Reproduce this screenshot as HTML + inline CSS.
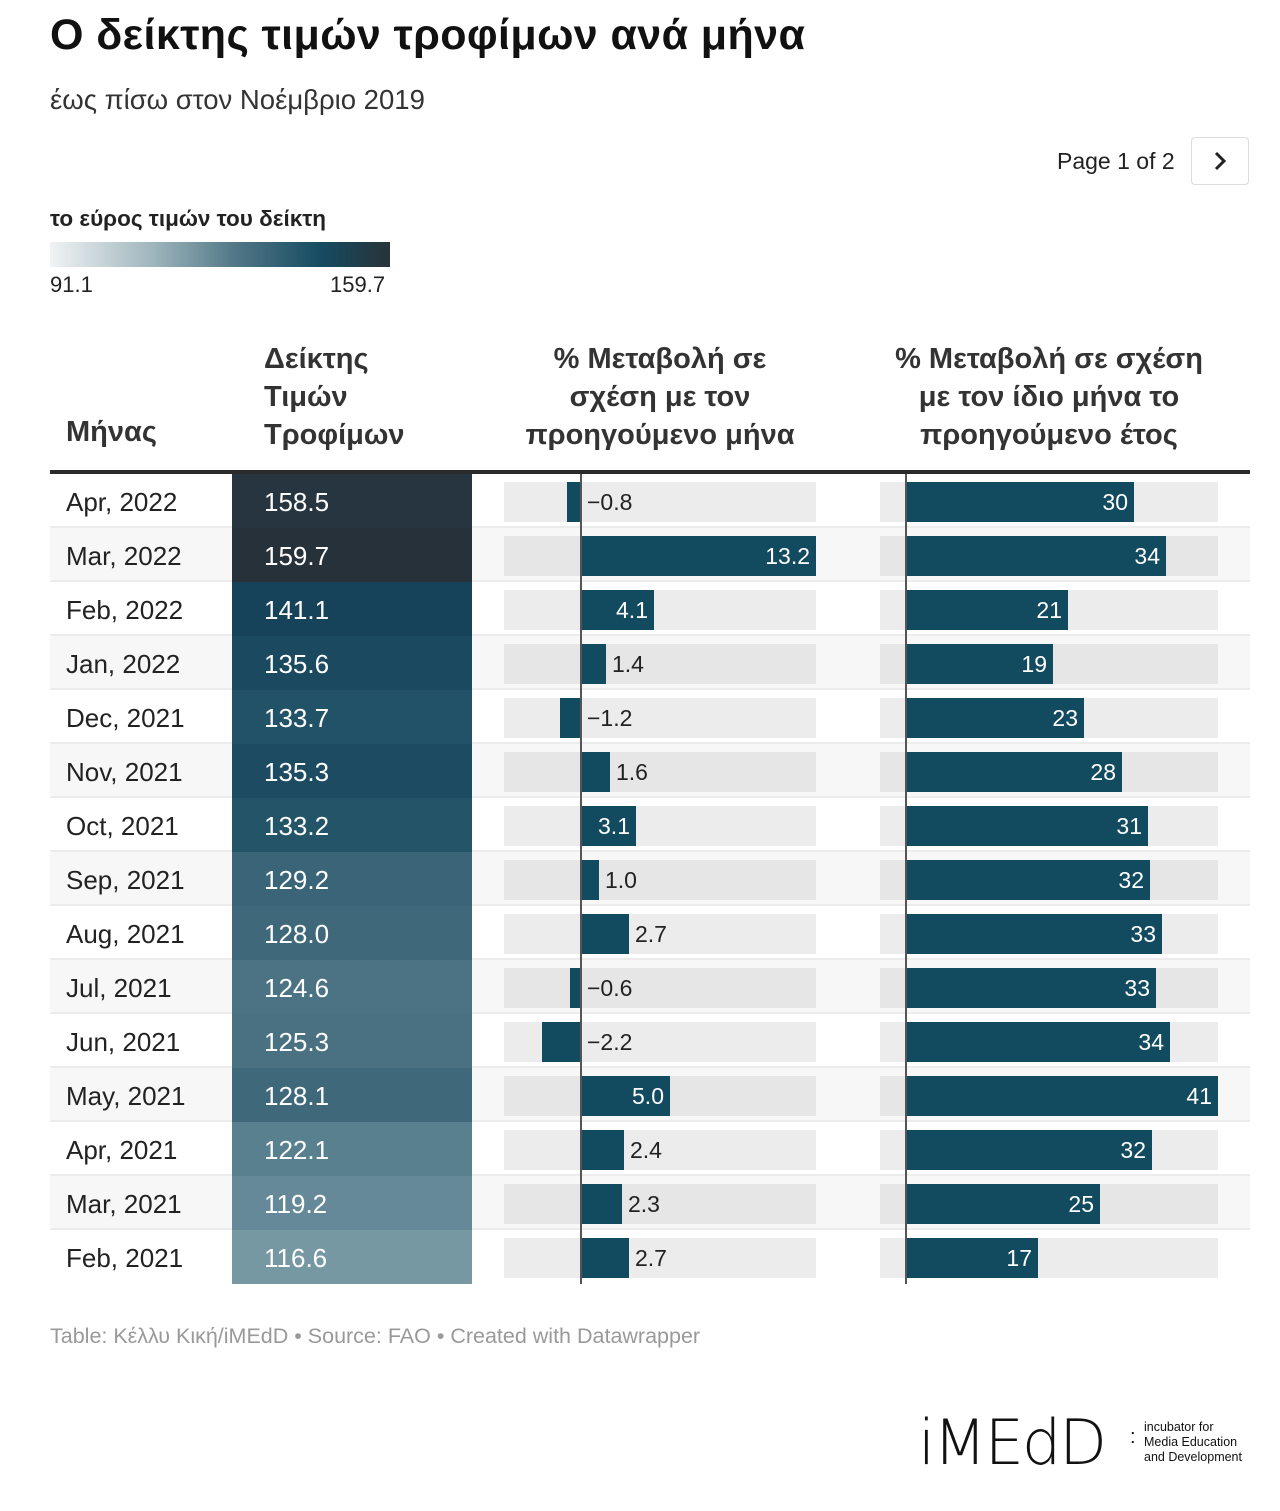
<!DOCTYPE html>
<html><head><meta charset="utf-8"><style>
body{margin:0;width:1280px;height:1511px;background:#fff;font-family:"Liberation Sans",sans-serif;color:#222;position:relative;overflow:hidden}
.a{position:absolute}
.r{position:absolute;left:0;width:1280px;height:54px}
.s{position:absolute;left:50px;width:1200px;top:0;height:52px;background:#f7f7f7}
.l{position:absolute;left:50px;width:1200px;top:52px;height:2px;background:#ececec}
.m{position:absolute;left:66px;top:13px;font-size:26px;color:#222}
.ix{position:absolute;left:232px;width:240px;top:0;height:54px}
.ix span{position:absolute;left:32px;top:13px;font-size:26px;color:#fff}
.bg1{position:absolute;left:504px;width:312px;top:8px;height:40px;background:#ececec}
.bg2{position:absolute;left:880px;width:338px;top:8px;height:40px;background:#ececec}
.sh .bg1,.sh .bg2{background:#e6e6e6}
.b{position:absolute;top:8px;height:40px;background:#124b5f}
.v{position:absolute;top:14px;font-size:23px;color:#222;line-height:28px}
.w{color:#fff;text-align:right}
</style></head><body>
<div class="a" style="left:50px;top:11px;font-size:43px;letter-spacing:0.4px;font-weight:bold;color:#111">Ο δείκτης τιμών τροφίμων ανά μήνα</div>
<div class="a" style="left:50px;top:84px;font-size:27.5px;color:#333">έως πίσω στον Νοέμβριο 2019</div>
<div class="a" style="left:1057px;top:148px;font-size:23px;color:#222">Page 1 of 2</div>
<div class="a" style="left:1191px;top:137px;width:58px;height:48px;border:1px solid #ddd;border-radius:4px;box-sizing:border-box;text-align:center">
<svg width="14" height="20" viewBox="0 0 14 20" style="margin-top:13px"><path d="M3 2l8 8-8 8" stroke="#222" stroke-width="3" fill="none"/></svg></div>
<div class="a" style="left:50px;top:206px;font-size:22.5px;font-weight:bold;color:#222">το εύρος τιμών του δείκτη</div>
<div class="a" style="left:50px;top:242px;width:340px;height:25px;background:linear-gradient(90deg,#f0f3f4 0%,#9fb6bd 30%,#4f7686 55%,#154b60 80%,#283339 100%)"></div>
<div class="a" style="left:50px;top:272px;font-size:22px;color:#222">91.1</div>
<div class="a" style="left:330px;top:272px;font-size:22px;color:#222">159.7</div>
<div class="a" style="left:66px;top:416px;font-size:29px;font-weight:bold;color:#333">Μήνας</div>
<div class="a" style="left:264px;top:340px;font-size:29px;font-weight:bold;color:#333;line-height:38px">Δείκτης<br>Τιμών<br>Τροφίμων</div>
<div class="a" style="left:494px;width:332px;top:340px;font-size:29px;font-weight:bold;color:#333;line-height:38px;text-align:center">% Μεταβολή σε<br>σχέση με τον<br>προηγούμενο μήνα</div>
<div class="a" style="left:860px;width:378px;top:340px;font-size:29px;font-weight:bold;color:#333;line-height:38px;text-align:center">% Μεταβολή σε σχέση<br>με τον ίδιο μήνα το<br>προηγούμενο έτος</div>
<div class="a" style="left:50px;top:470px;width:1200px;height:4px;background:#2b2b2b"></div>

<div class="r" style="top:474px"><div class="l"></div><div class="m">Apr, 2022</div><div class="ix" style="background:#263540"><span>158.5</span></div><div class="bg1"></div><div class="b" style="left:567px;width:14px"></div><div class="v" style="left:587px">−0.8</div><div class="bg2"></div><div class="b" style="left:906px;width:228px"></div><div class="v w" style="left:906px;width:222px">30</div></div>
<div class="r sh" style="top:528px"><div class="s"></div><div class="l"></div><div class="m">Mar, 2022</div><div class="ix" style="background:#273139"><span>159.7</span></div><div class="bg1"></div><div class="b" style="left:581px;width:235px"></div><div class="v w" style="left:581px;width:229px">13.2</div><div class="bg2"></div><div class="b" style="left:906px;width:260px"></div><div class="v w" style="left:906px;width:254px">34</div></div>
<div class="r" style="top:582px"><div class="l"></div><div class="m">Feb, 2022</div><div class="ix" style="background:#17435a"><span>141.1</span></div><div class="bg1"></div><div class="b" style="left:581px;width:73px"></div><div class="v w" style="left:581px;width:67px">4.1</div><div class="bg2"></div><div class="b" style="left:906px;width:162px"></div><div class="v w" style="left:906px;width:156px">21</div></div>
<div class="r sh" style="top:636px"><div class="s"></div><div class="l"></div><div class="m">Jan, 2022</div><div class="ix" style="background:#1b4a60"><span>135.6</span></div><div class="bg1"></div><div class="b" style="left:581px;width:25px"></div><div class="v" style="left:612px">1.4</div><div class="bg2"></div><div class="b" style="left:906px;width:147px"></div><div class="v w" style="left:906px;width:141px">19</div></div>
<div class="r" style="top:690px"><div class="l"></div><div class="m">Dec, 2021</div><div class="ix" style="background:#225267"><span>133.7</span></div><div class="bg1"></div><div class="b" style="left:560px;width:21px"></div><div class="v" style="left:587px">−1.2</div><div class="bg2"></div><div class="b" style="left:906px;width:178px"></div><div class="v w" style="left:906px;width:172px">23</div></div>
<div class="r sh" style="top:744px"><div class="s"></div><div class="l"></div><div class="m">Nov, 2021</div><div class="ix" style="background:#1d4b61"><span>135.3</span></div><div class="bg1"></div><div class="b" style="left:581px;width:29px"></div><div class="v" style="left:616px">1.6</div><div class="bg2"></div><div class="b" style="left:906px;width:216px"></div><div class="v w" style="left:906px;width:210px">28</div></div>
<div class="r" style="top:798px"><div class="l"></div><div class="m">Oct, 2021</div><div class="ix" style="background:#245468"><span>133.2</span></div><div class="bg1"></div><div class="b" style="left:581px;width:55px"></div><div class="v w" style="left:581px;width:49px">3.1</div><div class="bg2"></div><div class="b" style="left:906px;width:242px"></div><div class="v w" style="left:906px;width:236px">31</div></div>
<div class="r sh" style="top:852px"><div class="s"></div><div class="l"></div><div class="m">Sep, 2021</div><div class="ix" style="background:#3a6578"><span>129.2</span></div><div class="bg1"></div><div class="b" style="left:581px;width:18px"></div><div class="v" style="left:605px">1.0</div><div class="bg2"></div><div class="b" style="left:906px;width:244px"></div><div class="v w" style="left:906px;width:238px">32</div></div>
<div class="r" style="top:906px"><div class="l"></div><div class="m">Aug, 2021</div><div class="ix" style="background:#3f697b"><span>128.0</span></div><div class="bg1"></div><div class="b" style="left:581px;width:48px"></div><div class="v" style="left:635px">2.7</div><div class="bg2"></div><div class="b" style="left:906px;width:256px"></div><div class="v w" style="left:906px;width:250px">33</div></div>
<div class="r sh" style="top:960px"><div class="s"></div><div class="l"></div><div class="m">Jul, 2021</div><div class="ix" style="background:#4c7384"><span>124.6</span></div><div class="bg1"></div><div class="b" style="left:570px;width:11px"></div><div class="v" style="left:587px">−0.6</div><div class="bg2"></div><div class="b" style="left:906px;width:250px"></div><div class="v w" style="left:906px;width:244px">33</div></div>
<div class="r" style="top:1014px"><div class="l"></div><div class="m">Jun, 2021</div><div class="ix" style="background:#4a7182"><span>125.3</span></div><div class="bg1"></div><div class="b" style="left:542px;width:39px"></div><div class="v" style="left:587px">−2.2</div><div class="bg2"></div><div class="b" style="left:906px;width:264px"></div><div class="v w" style="left:906px;width:258px">34</div></div>
<div class="r sh" style="top:1068px"><div class="s"></div><div class="l"></div><div class="m">May, 2021</div><div class="ix" style="background:#3f697b"><span>128.1</span></div><div class="bg1"></div><div class="b" style="left:581px;width:89px"></div><div class="v w" style="left:581px;width:83px">5.0</div><div class="bg2"></div><div class="b" style="left:906px;width:312px"></div><div class="v w" style="left:906px;width:306px">41</div></div>
<div class="r" style="top:1122px"><div class="l"></div><div class="m">Apr, 2021</div><div class="ix" style="background:#58808f"><span>122.1</span></div><div class="bg1"></div><div class="b" style="left:581px;width:43px"></div><div class="v" style="left:630px">2.4</div><div class="bg2"></div><div class="b" style="left:906px;width:246px"></div><div class="v w" style="left:906px;width:240px">32</div></div>
<div class="r sh" style="top:1176px"><div class="s"></div><div class="l"></div><div class="m">Mar, 2021</div><div class="ix" style="background:#66899a"><span>119.2</span></div><div class="bg1"></div><div class="b" style="left:581px;width:41px"></div><div class="v" style="left:628px">2.3</div><div class="bg2"></div><div class="b" style="left:906px;width:194px"></div><div class="v w" style="left:906px;width:188px">25</div></div>
<div class="r" style="top:1230px"><div class="m">Feb, 2021</div><div class="ix" style="background:#7598a3"><span>116.6</span></div><div class="bg1"></div><div class="b" style="left:581px;width:48px"></div><div class="v" style="left:635px">2.7</div><div class="bg2"></div><div class="b" style="left:906px;width:132px"></div><div class="v w" style="left:906px;width:126px">17</div></div>

<div class="a" style="left:580px;top:474px;width:2px;height:810px;background:#555"></div>
<div class="a" style="left:905px;top:474px;width:2px;height:810px;background:#555"></div>

<div class="a" style="left:50px;top:1324px;font-size:21.5px;color:#999">Table: Κέλλυ Κική/iMEdD • Source: FAO • Created with Datawrapper</div>

<div class="a" style="left:918px;top:1408px;font-size:62px;font-weight:300;letter-spacing:-2px;color:#111;line-height:70px;font-family:'DejaVu Sans',sans-serif">iMEdD</div>
<div class="a" style="left:1130px;top:1432px;font-size:20px;color:#111;line-height:10px">:</div>
<div class="a" style="left:1144px;top:1420px;font-size:12.5px;line-height:15px;color:#111">incubator for<br>Media Education<br>and Development</div>
</body></html>
